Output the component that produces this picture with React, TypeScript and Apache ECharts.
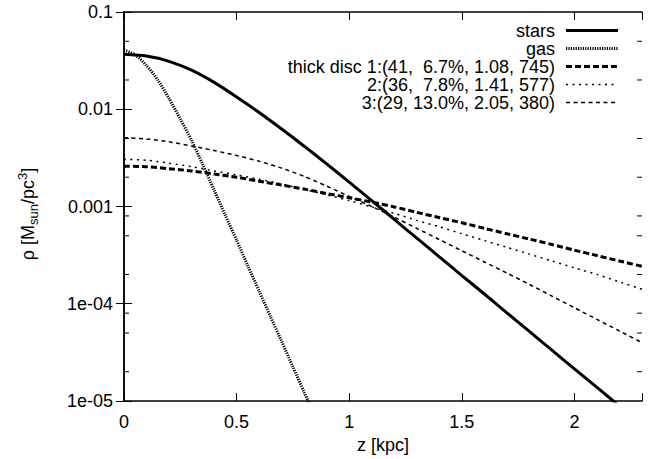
import React, { useEffect, useRef } from "react";
import * as echarts from "echarts";

// ---- data ----
const zGrid = [0, 0.1, 0.2, 0.3, 0.4, 0.5, 0.6, 0.7, 0.8, 0.9, 1.0, 1.1, 1.2, 1.3, 1.4, 1.5, 1.6, 1.7, 1.8, 1.9, 2.0, 2.1, 2.2, 2.3];
const rhoStars = [0.0367, 0.0352, 0.0311, 0.0252, 0.0189, 0.0134, 0.00927, 0.00627, 0.00417, 0.00274, 0.00178, 0.00115, 7.36e-4, 4.73e-4, 3.04e-4, 1.95e-4, 1.26e-4, 8.07e-5, 5.19e-5, 3.33e-5, 2.14e-5, 1.38e-5, 8.85e-6, 5.69e-6];
const zGas = [0, 0.05, 0.1, 0.15, 0.2, 0.25, 0.3, 0.35, 0.4, 0.45, 0.5, 0.55, 0.6, 0.65, 0.7, 0.75, 0.8, 0.85];
const rhoGas = [0.0407, 0.0363, 0.0282, 0.02, 0.0129, 0.00794, 0.00479, 0.00269, 0.00148, 8.1e-4, 4.5e-4, 2.45e-4, 1.35e-4, 7.4e-5, 4.1e-5, 2.24e-5, 1.23e-5, 6.8e-6];
const rhoDisc1 = [0.0026, 0.00256, 0.00245, 0.00232, 0.00216, 0.002, 0.00182, 0.00166, 0.00151, 0.00136, 0.00123, 0.00111, 9.9e-4, 8.7e-4, 7.7e-4, 6.8e-4, 5.96e-4, 5.25e-4, 4.62e-4, 4.07e-4, 3.55e-4, 3.13e-4, 2.75e-4, 2.43e-4];
const rhoDisc2 = [0.00305, 0.00299, 0.00279, 0.00257, 0.00232, 0.00211, 0.00191, 0.0017, 0.0015, 0.00132, 0.00115, 9.9e-4, 8.5e-4, 7.2e-4, 6.2e-4, 5.25e-4, 4.47e-4, 3.8e-4, 3.24e-4, 2.75e-4, 2.34e-4, 2.0e-4, 1.68e-4, 1.41e-4];
const rhoDisc3 = [0.0051, 0.00495, 0.00462, 0.00419, 0.00376, 0.00335, 0.00292, 0.00248, 0.00204, 0.00162, 0.00127, 0.001, 7.76e-4, 5.96e-4, 4.57e-4, 3.51e-4, 2.69e-4, 2.07e-4, 1.58e-4, 1.2e-4, 9.1e-5, 6.9e-5, 5.25e-5, 3.98e-5];

const seriesNames = [
  "stars",
  "gas",
  "thick disc 1:(41,  6.7%, 1.08, 745)",
  "2:(36,  7.8%, 1.41, 577)",
  "3:(29, 13.0%, 2.05, 380)",
];

const xMin = 0;
const xMax = 2.3;
const xInterval = 0.5;
const xTickValues = [0, 0.5, 1, 1.5, 2];
const xTickLabels = ["0", "0.5", "1", "1.5", "2"];
const yMin = 1e-5;
const yMax = 0.1;
const yTickValues = [1e-5, 1e-4, 1e-3, 1e-2, 0.1];
const yTickLabels = ["1e-05", "1e-04", "0.001", "0.01", "0.1"];
const yMinorTicks = [2e-5, 5e-5, 8e-5, 2e-4, 5e-4, 8e-4, 2e-3, 5e-3, 2e-2, 5e-2];

const FONT = "'Liberation Sans', Arial, Helvetica, sans-serif";

const lineStyles: any[] = [
  { width: 3, type: "solid" },
  { width: 3, type: [1.2, 1.2] },
  { width: 3, type: [6, 3] },
  { width: 1.5, type: [2, 4.5] },
  { width: 1.5, type: [4, 3.5] },
];

const seriesData = [
  zGrid.map((z, i) => [z, rhoStars[i]]),
  zGas.map((z, i) => [z, rhoGas[i]]),
  zGrid.map((z, i) => [z, rhoDisc1[i]]),
  zGrid.map((z, i) => [z, rhoDisc2[i]]),
  zGrid.map((z, i) => [z, rhoDisc3[i]]),
];

function buildOption(): any {
  const legendRight = 555;
  const sampleX1 = 566;
  const sampleX2 = 618;
  const rowY0 = 30.5;
  const rowDy = 18;
  const graphics: any[] = [];
  seriesNames.forEach((name, i) => {
    const y = rowY0 + i * rowDy;
    graphics.push({
      type: "text",
      x: legendRight,
      y,
      style: {
        text: name,
        fill: "#000",
        font: `18px ${FONT}`,
        lineHeight: 17,
        textAlign: "right",
        textVerticalAlign: "middle",
      },
      z: 100,
    });
    graphics.push({
      type: "line",
      shape: { x1: sampleX1, y1: y, x2: sampleX2, y2: y },
      style: {
        stroke: "#000",
        lineWidth: lineStyles[i].width,
        lineDash: lineStyles[i].type === "solid" ? null : lineStyles[i].type,
      },
      z: 100,
    });
  });

  // y-axis title (rotated, with sub/superscript)
  graphics.push({
    type: "text",
    x: 28,
    y: 214,
    rotation: Math.PI / 2,
    style: {
      text: "{a|ρ [M}{sub|sun}{a|/pc}{sup|3}{a|]}",
      fill: "#000",
      font: `18px ${FONT}`,
      textAlign: "center",
      textVerticalAlign: "middle",
      rich: {
        a: { fontSize: 18, lineHeight: 24, verticalAlign: "middle", fontFamily: FONT, fill: "#000" },
        sub: { fontSize: 13, lineHeight: 13, verticalAlign: "bottom", fontFamily: FONT, fill: "#000" },
        sup: { fontSize: 13, lineHeight: 13, verticalAlign: "top", fontFamily: FONT, fill: "#000" },
      },
    },
  });

  const xLabelFmt = (v: number) => {
    const idx = xTickValues.findIndex((t) => Math.abs(t - v) < 1e-9);
    return idx >= 0 ? xTickLabels[idx] : "";
  };
  const yLabelFmt = (v: number) => {
    const idx = yTickValues.findIndex((t) => Math.abs(Math.log10(t) - Math.log10(v)) < 1e-6);
    return idx >= 0 ? yTickLabels[idx] : "";
  };

  const axisLine = { show: true, lineStyle: { color: "#000", width: 1.5 } };
  const tick = { show: true, inside: true, length: 8, lineStyle: { color: "#000", width: 1 } };

  return {
    animation: false,
    backgroundColor: "#fff",
    textStyle: { fontFamily: FONT, color: "#000" },
    grid: { left: 124, right: 21, top: 12, bottom: 58, containLabel: false, outerBoundsMode: "none" },
    xAxis: [
      {
        type: "value",
        min: xMin,
        max: xMax,
        interval: xInterval,
        position: "bottom",
        axisLine,
        axisTick: tick,
        axisLabel: { show: true, formatter: xLabelFmt, fontSize: 18, color: "#000", margin: 12, fontFamily: FONT },
        splitLine: { show: false },
        name: "z [kpc]",
        nameLocation: "middle",
        nameGap: 32,
        nameTextStyle: { fontSize: 18, color: "#000", fontFamily: FONT },
      },
      {
        type: "value",
        min: xMin,
        max: xMax,
        interval: xInterval,
        position: "top",
        axisLine,
        axisTick: tick,
        axisLabel: { show: false },
        splitLine: { show: false },
      },
    ],
    yAxis: [
      {
        type: "log",
        logBase: 10,
        min: yMin,
        max: yMax,
        position: "left",
        axisLine,
        axisTick: tick,
        axisLabel: { show: true, formatter: yLabelFmt, fontSize: 18, color: "#000", margin: 11, fontFamily: FONT },
        splitLine: { show: false },
      },
      {
        type: "log",
        logBase: 10,
        min: yMin,
        max: yMax,
        position: "right",
        axisLine,
        axisTick: tick,
        axisLabel: { show: false },
        splitLine: { show: false },
      },
    ],
    series: [
      ...seriesNames.map((name, i) => ({
        name,
        type: "line",
        xAxisIndex: 0,
        yAxisIndex: 0,
        data: seriesData[i],
        showSymbol: false,
        symbol: "none",
        smooth: 0.25,
        clip: true,
        lineStyle: { color: "#000", width: lineStyles[i].width, type: lineStyles[i].type },
        emphasis: { disabled: true },
        z: 5 - i,
      })),
      {
        type: "custom",
        name: "minorTicks",
        xAxisIndex: 0,
        yAxisIndex: 0,
        silent: true,
        data: yMinorTicks.map((v) => [xMin, v]),
        renderItem: (params: any, api: any) => {
          const v = api.value(1);
          const pL = api.coord([xMin, v]);
          const pR = api.coord([xMax, v]);
          return {
            type: "group",
            children: [
              { type: "line", shape: { x1: pL[0], y1: pL[1], x2: pL[0] + 5, y2: pL[1] }, style: { stroke: "#000", lineWidth: 1 } },
              { type: "line", shape: { x1: pR[0] - 5, y1: pR[1], x2: pR[0], y2: pR[1] }, style: { stroke: "#000", lineWidth: 1 } },
            ],
          };
        },
        z: 10,
      },
    ],
    graphic: graphics,
  };
}

export default function App() {
  const ref = useRef<HTMLDivElement>(null);
  useEffect(() => {
    document.body.style.margin = "0";
    const chart = echarts.init(ref.current as HTMLDivElement, null, { renderer: "svg" });
    chart.setOption(buildOption());
    return () => chart.dispose();
  }, []);
  return <div ref={ref} style={{ position: "absolute", left: 0, top: 0, width: 663, height: 459 }} />;
}
